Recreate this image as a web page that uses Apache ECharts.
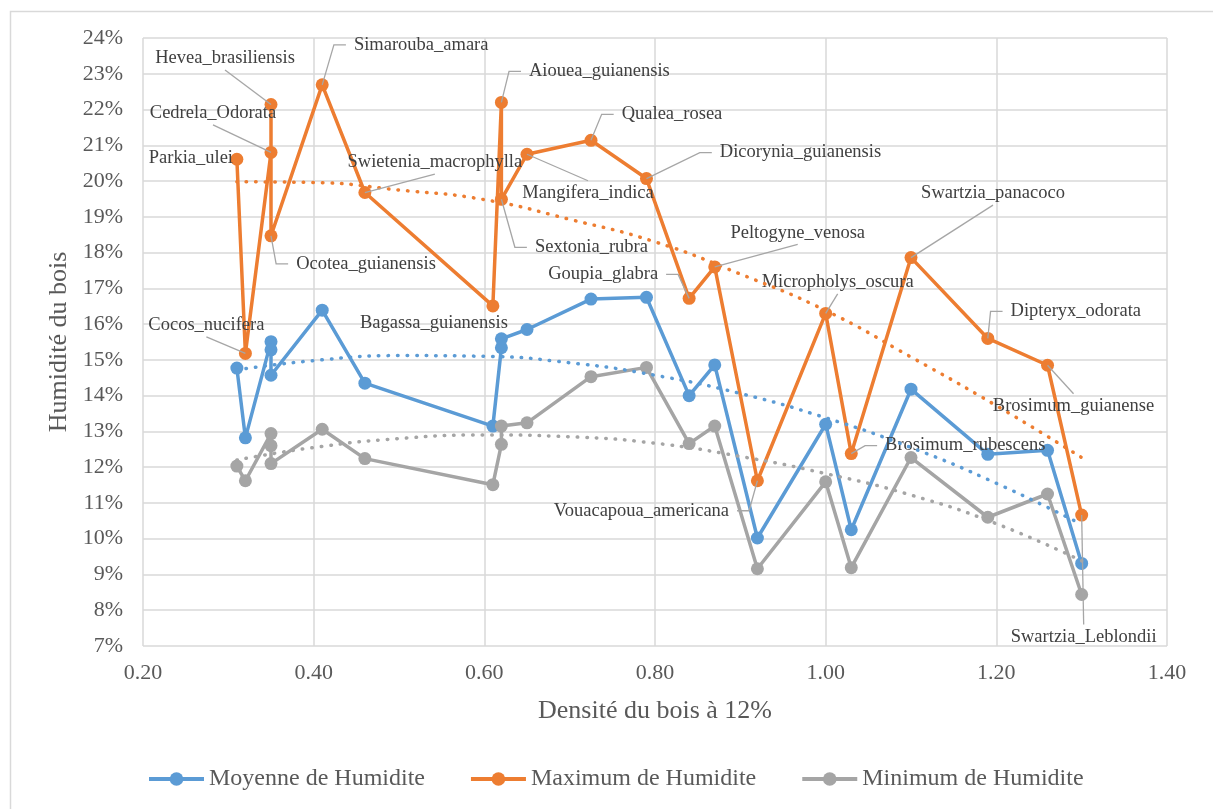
<!DOCTYPE html>
<html><head><meta charset="utf-8">
<script src="https://cdn.jsdelivr.net/npm/echarts@6/dist/echarts.min.js"></script>
<style>html,body{margin:0;padding:0;background:#fff}#c{width:1213px;height:809px}</style>
</head><body><div id="c"></div>
<script>
// ---- data ----
const species = ['Parkia_ulei','Cocos_nucifera','Cedrela_Odorata','Hevea_brasiliensis','Ocotea_guianensis','Simarouba_amara','Swietenia_macrophylla','Bagassa_guianensis','Aiouea_guianensis','Sextonia_rubra','Mangifera_indica','Qualea_rosea','Dicorynia_guianensis','Goupia_glabra','Peltogyne_venosa','Vouacapoua_americana','Micropholys_oscura','Brosimum_rubescens','Swartzia_panacoco','Dipteryx_odorata','Brosimum_guianense','Swartzia_Leblondii'];
const density = [0.31,0.32,0.35,0.35,0.35,0.41,0.46,0.61,0.62,0.62,0.65,0.725,0.79,0.84,0.87,0.92,1.00,1.03,1.10,1.19,1.26,1.30];
const meanHum = [14.77,12.82,15.51,15.28,14.57,16.39,14.35,13.15,15.34,15.59,15.85,16.70,16.75,14.00,14.86,10.02,13.20,10.25,14.18,12.36,12.47,9.31];
const maxHum  = [20.61,15.18,20.80,22.14,18.47,22.69,19.68,16.51,22.20,19.49,20.75,21.14,20.07,16.72,17.60,11.62,16.30,12.38,17.86,15.60,14.85,10.66];
const minHum  = [12.03,11.62,12.94,12.60,12.10,13.06,12.24,11.51,12.64,13.15,13.24,14.53,14.79,12.66,13.15,9.16,11.59,9.19,12.27,10.60,11.25,8.44];
// dotted trend curves
const trendX    = [0.31,0.40,0.50,0.60,0.70,0.80,0.90,1.00,1.10,1.20,1.30];
const trendMean = [14.72,14.98,15.12,15.10,14.92,14.57,14.06,13.38,12.55,11.55,10.40];
const trendMax  = [19.98,19.96,19.75,19.48,18.93,18.30,17.40,16.38,15.08,13.72,12.27];
const trendMin  = [12.20,12.55,12.80,12.90,12.85,12.67,12.30,11.82,11.22,10.42,9.38];
const seriesNames = ['Moyenne de Humidite','Maximum de Humidite','Minimum de Humidite'];

// ---- label layout: offset of each species label from its marker, and side of the leader ----
const labelOffsets = [[-46,-1],[-39,-28],[-58,-39],[-46,-46],[95,28],[99,-40],[70,-30],[-59,17],[98,-31],[90,48],[61,39],[81,-26],[154,-26],[-86,-24],[83,-34],[-116,30],[12,-31],[114,-8],[82,-64],[88,-27],[26,41],[2,122]];
const leaderFrom = ['-','b','b','b','l','l','b','-','l','l','t','l','l','r','b','r','b','l','b','l','t','t'];

const colors = ['#5b9bd5','#ed7d31','#a5a5a5'];
const font = 'Liberation Serif';
const textColor = '#595959';
const labelFontSize = 18.5;
const labelHeight = 21;

const measureCtx = document.createElement('canvas').getContext('2d');
measureCtx.font = labelFontSize + 'px "' + font + '"';
function textWidth(t){ return measureCtx.measureText(t).width; }

function pts(ys){ return density.map((x,i)=>[x, ys[i]]); }
function trendPts(ys){ return trendX.map((x,i)=>[x, ys[i]]); }

function leaderPoints(a, lx, ly, w, h, px, py){
  if (a === 'b') return [[lx, ly + h/2 + 1], [px, py]];
  if (a === 't') return [[lx, ly - h/2 - 2], [px, py]];
  if (a === 'l') return [[lx - w/2 - 8, ly], [lx - w/2 - 20, ly], [px, py]];
  if (a === 'r') return [[lx + w/2 + 8, ly], [lx + w/2 + 20, ly], [px, py]];
  return null;
}

function mainSeries(name, ys, color, withLabels){
  const s = {
    name: name, type: 'line', symbol: 'circle', symbolSize: 13,
    lineStyle: {width: 3.5, color: color}, itemStyle: {color: color},
    emphasis: {disabled: true}, animation: false, z: 3,
    data: pts(ys)
  };
  if (withLabels){
    s.label = {show: true, formatter: p => species[p.dataIndex], fontFamily: font, fontSize: labelFontSize, color: '#404040'};
    s.labelLayout = function(params){
      const off = labelOffsets[params.dataIndex];
      const px = params.rect.x + params.rect.width/2;
      const py = params.rect.y + params.rect.height/2;
      return {x: px + off[0], y: py + off[1], align: 'center', verticalAlign: 'middle'};
    };
  }
  return s;
}
function trendSeries(ys, color){
  return {
    type: 'line', smooth: true, symbol: 'none', silent: true, animation: false, z: 4,
    lineStyle: {width: 3.5, color: color, type: [0.5, 9], cap: 'round'},
    data: trendPts(ys)
  };
}
// leader lines from each label to its point on the maximum series
const leaderSeries = {
  type: 'custom', silent: true, animation: false, z: 5,
  data: species.map((s,i)=>[density[i], maxHum[i], i]).filter(d => leaderFrom[d[2]] !== '-'),
  encode: {x: 0, y: 1},
  renderItem: function(params, api){
    const i = api.value(2);
    const p = api.coord([api.value(0), api.value(1)]);
    const off = labelOffsets[i];
    const lp = leaderPoints(leaderFrom[i], p[0] + off[0], p[1] + off[1], textWidth(species[i]), labelHeight, p[0], p[1]);
    return {type: 'polyline', shape: {points: lp}, style: {stroke: '#a6a6a6', lineWidth: 1.3, fill: null}};
  }
};

const chart = echarts.init(document.getElementById('c'), null, {renderer: 'canvas'});
chart.setOption({
  backgroundColor: '#fff',
  animation: false,
  graphic: [{type: 'rect', left: 8, top: 9, shape: {width: 1400, height: 1000}, style: {fill: 'none', stroke: '#d9d9d9', lineWidth: 1.5}, silent: true, z: -10}],
  grid: {left: 143, right: 46, top: 38, bottom: 163, containLabel: false},
  legend: {
    data: seriesNames, top: 767, left: 147, padding: 0, itemWidth: 55, itemHeight: 17, itemGap: 44,
    lineStyle: {width: 4},
    textStyle: {fontFamily: font, fontSize: 24, color: textColor}
  },
  xAxis: {
    type: 'value', min: 0.2, max: 1.4, interval: 0.2,
    name: 'Densité du bois à 12%', nameLocation: 'middle', nameGap: 52,
    nameTextStyle: {fontFamily: font, fontSize: 26, color: textColor},
    axisLine: {show: false}, axisTick: {show: false},
    axisLabel: {formatter: v => v.toFixed(2), fontFamily: font, fontSize: 22, color: textColor, margin: 16},
    splitLine: {show: true, lineStyle: {color: '#d9d9d9', width: 1.5}}
  },
  yAxis: {
    type: 'value', min: 7, max: 24, interval: 1,
    name: 'Humidité du bois', nameLocation: 'middle', nameGap: 70,
    nameTextStyle: {fontFamily: font, fontSize: 26, color: textColor},
    axisLine: {show: false}, axisTick: {show: false},
    axisLabel: {formatter: '{value}%', fontFamily: font, fontSize: 22, color: textColor, margin: 20},
    splitLine: {show: true, lineStyle: {color: '#d9d9d9', width: 1.5}}
  },
  series: [
    mainSeries(seriesNames[0], meanHum, colors[0], false),
    mainSeries(seriesNames[1], maxHum, colors[1], true),
    mainSeries(seriesNames[2], minHum, colors[2], false),
    trendSeries(trendMean, colors[0]),
    trendSeries(trendMax, colors[1]),
    trendSeries(trendMin, colors[2]),
    leaderSeries
  ]
});
</script>
</body></html>
